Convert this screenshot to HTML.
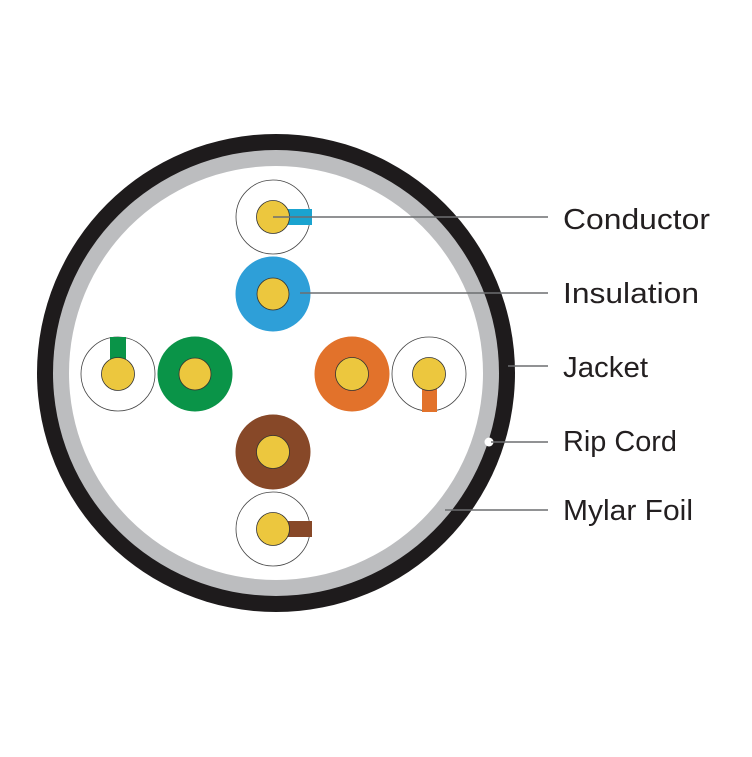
<!DOCTYPE html>
<html><head><style>html,body{margin:0;padding:0;background:#fff}</style></head>
<body>
<svg width="752" height="752" viewBox="0 0 752 752" xmlns="http://www.w3.org/2000/svg">
<rect width="752" height="752" fill="#fff"/>
<circle cx="276" cy="373" r="239" fill="#1e1b1c"/>
<circle cx="276" cy="373" r="223" fill="#bcbdbf"/>
<circle cx="276" cy="373" r="207" fill="#fff"/>
<!-- top white w/ blue -->
<circle cx="273" cy="217" r="37" fill="#fff" stroke="#444" stroke-width="0.8"/>
<rect x="288" y="209" width="24" height="16" fill="#1aa3cf"/>
<circle cx="273" cy="217" r="16.5" fill="#ecc73e" stroke="#333" stroke-width="0.8"/>
<!-- blue -->
<circle cx="273" cy="294" r="37.5" fill="#2e9fd8"/>
<circle cx="273" cy="294" r="16" fill="#ecc73e" stroke="#333" stroke-width="0.8"/>
<!-- green pair -->
<circle cx="118" cy="374" r="37" fill="#fff" stroke="#444" stroke-width="0.8"/>
<rect x="110" y="337" width="16" height="26" fill="#0a9448"/>
<circle cx="118" cy="374" r="16.5" fill="#ecc73e" stroke="#333" stroke-width="0.8"/>
<circle cx="195" cy="374" r="37.5" fill="#0a9448"/>
<circle cx="195" cy="374" r="16" fill="#ecc73e" stroke="#333" stroke-width="0.8"/>
<!-- orange pair -->
<circle cx="352" cy="374" r="37.5" fill="#e2722b"/>
<circle cx="352" cy="374" r="16.5" fill="#ecc73e" stroke="#333" stroke-width="0.8"/>
<circle cx="429" cy="374" r="37" fill="#fff" stroke="#444" stroke-width="0.8"/>
<rect x="422" y="385" width="15" height="27" fill="#e2722b"/>
<circle cx="429" cy="374" r="16.5" fill="#ecc73e" stroke="#333" stroke-width="0.8"/>
<!-- brown pair -->
<circle cx="273" cy="452" r="37.5" fill="#874828"/>
<circle cx="273" cy="452" r="16.5" fill="#ecc73e" stroke="#333" stroke-width="0.8"/>
<circle cx="273" cy="529" r="37" fill="#fff" stroke="#444" stroke-width="0.8"/>
<rect x="285" y="521" width="27" height="16" fill="#874828"/>
<circle cx="273" cy="529" r="16.5" fill="#ecc73e" stroke="#333" stroke-width="0.8"/>
<!-- rip cord -->
<circle cx="489" cy="442" r="4.5" fill="#fff"/>
<!-- leader lines -->
<g stroke="#6d6e70" stroke-width="1.5">
<line x1="273" y1="217" x2="548" y2="217"/>
<line x1="300" y1="293" x2="548" y2="293"/>
<line x1="508" y1="366" x2="548" y2="366"/>
<line x1="491" y1="442" x2="548" y2="442"/>
<line x1="445" y1="510" x2="548" y2="510"/>
</g>
<g font-family="Liberation Sans, sans-serif" font-size="29" fill="#231f20">
<text x="563" y="229" textLength="147" lengthAdjust="spacingAndGlyphs">Conductor</text>
<text x="563" y="303" textLength="136" lengthAdjust="spacingAndGlyphs">Insulation</text>
<text x="563" y="377" textLength="85" lengthAdjust="spacingAndGlyphs">Jacket</text>
<text x="563" y="451" textLength="114" lengthAdjust="spacingAndGlyphs">Rip Cord</text>
<text x="563" y="520" textLength="130" lengthAdjust="spacingAndGlyphs">Mylar Foil</text>
</g>
</svg>
</body></html>
